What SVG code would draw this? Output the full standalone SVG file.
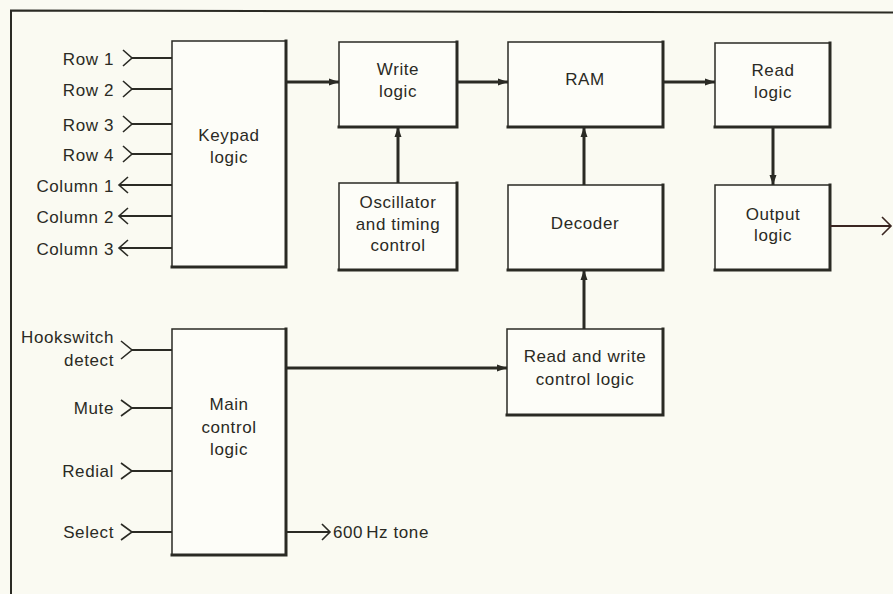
<svg xmlns="http://www.w3.org/2000/svg" width="893" height="594" viewBox="0 0 893 594">
<defs>
<style>
.bg{fill:#fafaf2}
.box{fill:#fdfdf8;stroke:#2a2a24;stroke-width:1.5}
.edge{fill:none;stroke:#2a2a24;stroke-width:3;stroke-linecap:square}
.t{font-family:"Liberation Sans",Arial,sans-serif;font-size:17px;fill:#2a2a24;letter-spacing:0.6px}
.c{text-anchor:middle}
.r{text-anchor:end}
.bus{fill:none;stroke:#2a2a24;stroke-width:3}
.sig{fill:none;stroke:#2a2a24;stroke-width:2}
.chev{fill:none;stroke:#2a2a24;stroke-width:1.6;stroke-linejoin:miter}
.frame{fill:none;stroke:#2a2a24;stroke-width:2}
</style>
<marker id="ah" markerWidth="10" markerHeight="8" refX="10" refY="4" orient="auto" markerUnits="userSpaceOnUse">
<path d="M0,0.5 L10,4 L0,7.5 Z" fill="#2a2a24"/>
</marker>
</defs>
<rect class="bg" x="0" y="0" width="893" height="594"/>
<path class="frame" d="M11,594 L11,10.5 L893,12.5"/>

<g id="keypad">
<rect class="box" x="172" y="41" width="114" height="226"/>
<path class="edge" d="M286,41 L286,267 L172,267"/>
<text class="t c" x="229" y="141">Keypad</text>
<text class="t c" x="229" y="163">logic</text>
</g>
<g id="write">
<rect class="box" x="339" y="42" width="118" height="85"/>
<path class="edge" d="M457,42 L457,127 L339,127"/>
<text class="t c" x="398" y="75">Write</text>
<text class="t c" x="398" y="97">logic</text>
</g>
<g id="osc">
<rect class="box" x="339" y="183" width="118" height="87"/>
<path class="edge" d="M457,183 L457,270 L339,270"/>
<text class="t c" x="398" y="208">Oscillator</text>
<text class="t c" x="398" y="230">and timing</text>
<text class="t c" x="398" y="251">control</text>
</g>
<g id="ram">
<rect class="box" x="508" y="42" width="155" height="85"/>
<path class="edge" d="M663,42 L663,127 L508,127"/>
<text class="t c" x="585" y="85">RAM</text>
</g>
<g id="decoder">
<rect class="box" x="508" y="185" width="155" height="85"/>
<path class="edge" d="M663,185 L663,270 L508,270"/>
<text class="t c" x="585" y="229">Decoder</text>
</g>
<g id="readlogic">
<rect class="box" x="715" y="43" width="115" height="84"/>
<path class="edge" d="M830,43 L830,127 L715,127"/>
<text class="t c" x="773" y="76">Read</text>
<text class="t c" x="773" y="98">logic</text>
</g>
<g id="output">
<rect class="box" x="715" y="185" width="115" height="85"/>
<path class="edge" d="M830,185 L830,270 L715,270"/>
<text class="t c" x="773" y="220">Output</text>
<text class="t c" x="773" y="241">logic</text>
</g>
<g id="rwcontrol">
<rect class="box" x="507" y="329" width="156" height="86"/>
<path class="edge" d="M663,329 L663,415 L507,415"/>
<text class="t c" x="585" y="362">Read and write</text>
<text class="t c" x="585" y="385">control logic</text>
</g>
<g id="main">
<rect class="box" x="172" y="329" width="114" height="226"/>
<path class="edge" d="M286,329 L286,555 L172,555"/>
<text class="t c" x="229" y="410">Main</text>
<text class="t c" x="229" y="433">control</text>
<text class="t c" x="229" y="455">logic</text>
</g>

<g id="labels">
<text class="t r" x="114" y="65">Row 1</text>
<text class="t r" x="114" y="96">Row 2</text>
<text class="t r" x="114" y="131">Row 3</text>
<text class="t r" x="114" y="161">Row 4</text>
<text class="t r" x="114" y="192">Column 1</text>
<text class="t r" x="114" y="223">Column 2</text>
<text class="t r" x="114" y="255">Column 3</text>
<text class="t r" x="114" y="343">Hookswitch</text>
<text class="t r" x="114" y="366">detect</text>
<text class="t r" x="114" y="414">Mute</text>
<text class="t r" x="114" y="477">Redial</text>
<text class="t r" x="114" y="538">Select</text>
<text class="t" x="333" y="538">600<tspan dx="3">Hz tone</tspan></text>
</g>

<g id="connectors">
<!-- row inputs -->
<path class="sig" d="M132,58 H172 M132,89 H172 M132,124 H172 M132,154 H172"/>
<path class="chev" d="M123,50 L132,58 L123,66 M123,81 L132,89 L123,97 M123,116 L132,124 L123,132 M123,146 L132,154 L123,162"/>
<!-- column outputs -->
<path class="sig" d="M120,185 H172 M120,216 H172 M120,248 H172"/>
<path class="chev" d="M128,177 L119,185 L128,193 M128,208 L119,216 L128,224 M128,240 L119,248 L128,256"/>
<!-- main control inputs -->
<path class="sig" d="M132,350 H172 M132,408 H172 M132,471 H172 M132,532 H172"/>
<path class="chev" d="M121,341 L132,350 L121,359 M121,400 L132,408 L121,416 M121,463 L132,471 L121,479 M121,524 L132,532 L121,540"/>
<!-- 600Hz tone -->
<path class="sig" d="M286,532 H330"/>
<path class="chev" d="M322,524 L330,532 L322,540"/>
<!-- buses -->
<line class="bus" x1="286" y1="82" x2="339" y2="82" marker-end="url(#ah)"/>
<line class="bus" x1="457" y1="82" x2="508" y2="82" marker-end="url(#ah)"/>
<line class="bus" x1="663" y1="82" x2="715" y2="82" marker-end="url(#ah)"/>
<line class="bus" x1="398" y1="183" x2="398" y2="127" marker-end="url(#ah)"/>
<line class="bus" x1="584" y1="185" x2="584" y2="127" marker-end="url(#ah)"/>
<line class="bus" x1="584" y1="329" x2="584" y2="270" marker-end="url(#ah)"/>
<line class="bus" x1="773" y1="127" x2="773" y2="185" marker-end="url(#ah)"/>
<line class="bus" x1="286" y1="368" x2="507" y2="368" marker-end="url(#ah)"/>
<!-- output -->
<path d="M830,226 H891" fill="none" stroke="#3a2622" stroke-width="2"/>
<path d="M882,217 L891,226 L882,235" fill="none" stroke="#3a2622" stroke-width="1.6"/>
</g>
</svg>
